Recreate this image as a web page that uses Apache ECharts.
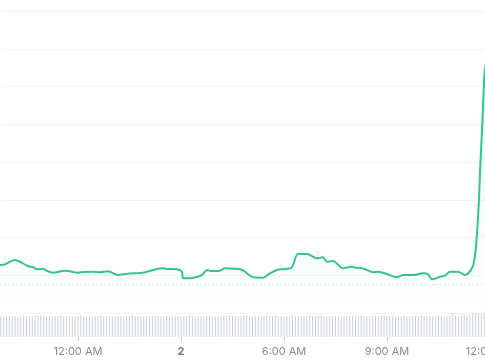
<!DOCTYPE html>
<html><head><meta charset="utf-8">
<script src="https://cdn.jsdelivr.net/npm/echarts@6/dist/echarts.min.js"></script>
<style>html,body{margin:0;padding:0;background:#fff}#c{width:485px;height:360px}</style>
</head><body><div id="c"></div>
<script>
// time in hours relative to the "12:00 AM" tick
const hours = [-2.27,-2.13,-1.84,-1.69,-1.46,-1.31,-1.17,-1.02,-0.90,-0.73,-0.38,-0.18,0.00,0.15,0.44,0.64,0.87,1.17,1.43,1.89,2.19,2.48,2.62,2.88,3.03,3.06,3.32,3.55,3.64,3.76,3.90,4.14,4.28,4.52,4.72,4.87,4.92,5.10,5.39,5.59,5.88,6.03,6.23,6.41,6.67,6.96,7.14,7.25,7.43,7.72,7.98,8.07,8.21,8.42,8.59,8.74,9.00,9.29,9.47,9.76,10.05,10.20,10.31,10.55,10.69,10.84,11.07,11.27,11.48,11.56,11.62,11.68,11.72,11.77,11.80,11.84,11.89,11.95];
const prices = [12.78,12.96,14.10,13.65,12.51,12.17,11.64,11.80,11.19,10.74,11.27,11.01,10.74,10.93,11.01,10.85,11.11,10.13,10.48,10.74,11.46,11.90,11.72,11.64,11.01,9.26,9.34,9.87,10.40,11.46,11.19,11.27,11.90,11.80,11.64,11.01,10.58,9.52,9.42,10.58,11.64,11.72,12.17,15.69,15.69,14.55,14.81,13.65,13.84,11.90,12.33,12.06,12.06,11.46,10.85,11.01,10.40,9.52,10.13,10.13,10.58,10.32,8.99,9.68,9.95,11.01,11.01,10.13,11.98,14.89,20.71,29.97,39.23,48.49,55.08,63.0,66.5,70.0];
const refPrice = 7.62;
// 5-minute volume bars starting at -2.25 h
const volStart = -2.25;
const volumes = [
21,21,21,22,21,21,21,21,22,21,
21,21,22,22,22,21,21,21,21,21,
21,22,21,21,21,21,21,21,22,21,
21,21,21,21,21,22,21,21,21,21,
21,21,21,21,21,21,22,21,21,21,
21,21,21,21,22,21,21,21,21,21,
21,21,21,21,21,21,22,21,21,21,
21,21,21,22,21,21,21,21,21,22,
22,21,21,21,21,22,22,21,21,21,
21,21,21,22,21,21,22,21,21,21,
21,21,22,21,21,21,21,21,22,21,
21,22,22,21,21,21,21,21,21,21,
22,21,21,21,21,21,22,21,21,21,
21,21,21,22,22,21,21,21,21,21,
21,22,21,21,21,21,21,22,21,21,
22,21,21,22,21,21,21,22,27,22,
21,22,23,22,23,24,24,25,25,25];
const tickHours = [0,3,6,9,12];
const tickLabels = ['12:00 AM','2','6:00 AM','9:00 AM','12:00 PM'];

const chart = echarts.init(document.getElementById('c'));
const xMin = -2.25, xMax = 12.25;
const line = hours.map((h,i)=>[h,prices[i]]);
const vol = volumes.map((v,i)=>[volStart + i/12, v]);
chart.setOption({
  animation:false,
  grid:[
    {left:0.75,right:-13.5,top:11,bottom:46.7,outerBoundsMode:'none',containLabel:false},
    {left:0.75,right:-13.5,top:313.3,bottom:23,outerBoundsMode:'none',containLabel:false}
  ],
  xAxis:[
    {type:'value',gridIndex:0,min:xMin,max:xMax,show:false},
    {type:'value',gridIndex:1,min:xMin,max:xMax,
     axisLine:{show:false},splitLine:{show:false},
     axisTick:{show:true,customValues:tickHours,length:4,lineStyle:{color:'#c9ccd3'}},
     axisLabel:{customValues:tickHours,margin:9,color:'#858b96',fontSize:11,fontFamily:'Inter',hideOverlap:false,
       formatter:(v)=>{const i=tickHours.indexOf(v);const t=tickLabels[i];return t==='2'?'{b|'+t+'}':t;},
       rich:{b:{fontWeight:'bold',color:'#6f7580',fontSize:11,fontFamily:'Inter'}}}}
  ],
  yAxis:[
    {type:'value',gridIndex:0,min:0,max:80,interval:10,
     axisLine:{show:false},axisTick:{show:false},axisLabel:{show:false},
     splitLine:{lineStyle:{color:'#f1f1f3',width:1}}},
    {type:'value',gridIndex:1,min:0,max:24,show:false,splitLine:{show:false}}
  ],
  series:[
    {type:'line',xAxisIndex:0,yAxisIndex:0,data:line,showSymbol:false,smooth:0.3,
     lineStyle:{color:'#36c48b',width:2},
     areaStyle:{color:new echarts.graphic.LinearGradient(0,0,0,1,[{offset:0,color:'rgba(54,196,139,0.18)'},{offset:1,color:'rgba(54,196,139,0)'}])},
     markLine:{silent:true,symbol:'none',label:{show:false},
       lineStyle:{color:'#c4c7cc',type:[1,3],width:1},data:[{yAxis:refPrice}]}},
    {type:'bar',xAxisIndex:1,yAxisIndex:1,data:vol,barWidth:1,itemStyle:{color:'#ccd0dc'}}
  ]
});
</script></body></html>
